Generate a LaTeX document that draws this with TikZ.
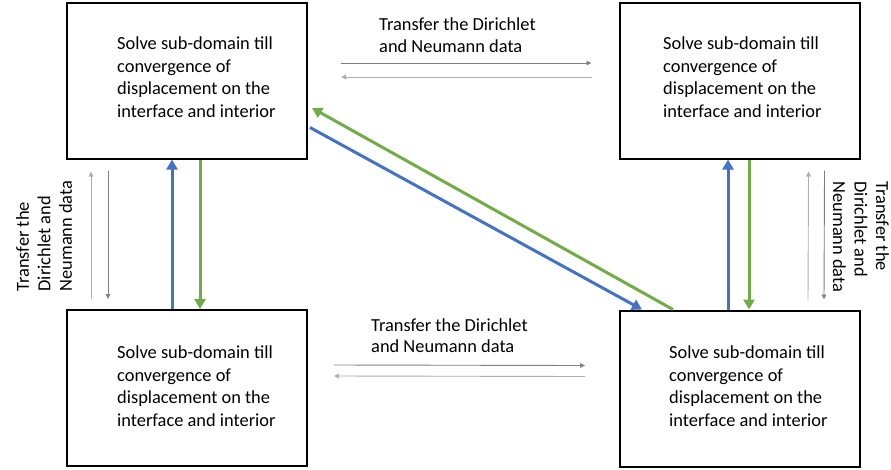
\documentclass[tikz,border=0pt]{standalone}
\usepackage{fontspec}
\setmainfont{Carlito}
\usetikzlibrary{arrows.meta}

\definecolor{offblue}{HTML}{4472C4}
\definecolor{offgreen}{HTML}{70AD47}
\tikzset{
  box/.style={draw, line width=2pt, minimum width=240pt, minimum height=156pt, inner sep=0pt},
  boxtext/.style={anchor=west, align=left, inner sep=0pt, font=\fontsize{18.4}{22.5}\selectfont},
  lbl/.style={align=left, inner sep=0pt, font=\fontsize{18.4}{21.5}\selectfont},
  fwd/.style={draw=black!50, line width=0.9pt, -{Triangle[length=5pt,width=4.5pt]}},
  bwd/.style={draw=black!32, line width=0.9pt, -{Triangle[length=5pt,width=4.5pt]}},
  bluearr/.style={draw=offblue, line width=3pt, -{Triangle[length=10pt,width=11pt]}},
  greenarr/.style={draw=offgreen, line width=3pt, -{Triangle[length=10pt,width=11pt]}}
}

\begin{document}
\begin{tikzpicture}[x=1pt, y=-1pt]
\useasboundingbox (0,0) rectangle (891,469);
% sub-domains
\node[box] (tl) at (187,80.5) {};
\node[box] (tr) at (739.5,80.5) {};
\node[box] (bl) at (187,388) {};
\node[box] (br) at (740,388.5) {};
\node[boxtext] (tlt) at (117,77) {Solve sub-domain till\\convergence of\\displacement on the\\interface and interior};
\node[boxtext] (trt) at (663,77) {Solve sub-domain till\\convergence of\\displacement on the\\interface and interior};
\node[boxtext] (blt) at (117,386) {Solve sub-domain till\\convergence of\\displacement on the\\interface and interior};
\node[boxtext] (brt) at (669,386) {Solve sub-domain till\\convergence of\\displacement on the\\interface and interior};
% data transfer labels
\node[lbl, anchor=west] (toplbl) at (379,35) {Transfer the Dirichlet\\and Neumann data};
\node[lbl, anchor=west] (botlbl) at (371,335.5) {Transfer the Dirichlet\\and Neumann data};
\node[lbl, rotate=90] (leftlbl) at (44,236) {Transfer the\\Dirichlet and\\Neumann data};
\node[lbl, rotate=-90] (rightlbl) at (861,237) {Transfer the\\Dirichlet and\\Neumann data};
% thin transfer arrows
\draw[fwd] ([xshift=33pt,yshift=17.5pt]tl.east) -- ([xshift=-27pt,yshift=17.5pt]tr.west);
\draw[bwd] ([xshift=-27pt,yshift=3.5pt]tr.west) -- ([xshift=33pt,yshift=3.5pt]tl.east);
\draw[fwd] ([xshift=26pt,yshift=23pt]bl.east) -- ([xshift=-34pt,yshift=23pt]br.west);
\draw[bwd] ([xshift=-34pt,yshift=12pt]br.west) -- ([xshift=26pt,yshift=12pt]bl.east);
\draw[bwd] ([xshift=25pt,yshift=10pt]bl.north west) -- ([xshift=25pt,yshift=-12pt]tl.south west);
\draw[fwd] ([xshift=42pt,yshift=-11pt]tl.south west) -- ([xshift=42pt,yshift=10pt]bl.north west);
\draw[bwd] ([xshift=-53pt,yshift=10pt]br.north east) -- ([xshift=-52pt,yshift=-12pt]tr.south east);
\draw[fwd] ([xshift=-36pt,yshift=-11pt]tr.south east) -- ([xshift=-37pt,yshift=10pt]br.north east);
% coloured arrows
\draw[bluearr] ([xshift=-15pt]bl.north) -- ([xshift=-15pt]tl.south);
\draw[greenarr] ([xshift=13pt]tl.south) -- ([xshift=13pt]bl.north);
\draw[bluearr] ([xshift=-12pt]br.north) -- ([xshift=-11.5pt]tr.south);
\draw[greenarr] ([xshift=9.5pt]tr.south) -- ([xshift=9pt]br.north);
\draw[bluearr] ([xshift=2pt,yshift=-47pt]tl.east) -- ([xshift=-98pt]br.north);
\draw[greenarr] ([xshift=-67pt]br.north) -- ([xshift=4pt,yshift=-27.5pt]tl.east);
\end{tikzpicture}
\end{document}
